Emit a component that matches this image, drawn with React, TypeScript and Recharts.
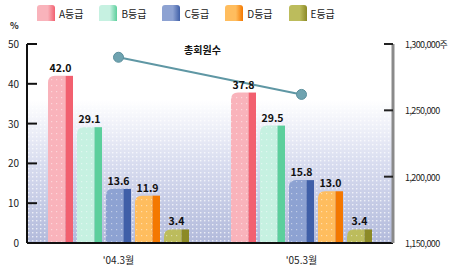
import { ComposedChart, Bar, Line, XAxis, YAxis, ReferenceArea, LabelList } from 'recharts'

const categories = ["'04.3월", "'05.3월"]
const gradeNames = ['A등급', 'B등급', 'C등급', 'D등급', 'E등급']
const gradeA = [42.0, 37.8]
const gradeB = [29.1, 29.5]
const gradeC = [13.6, 15.8]
const gradeD = [11.9, 13.0]
const gradeE = [3.4, 3.4]
const members = [1290000, 1262000]
const memberLabel = '총회원수'
const leftTicks = [0, 10, 20, 30, 40, 50]
const rightTicks = [1150000, 1200000, 1250000, 1300000]

const keys = ['a', 'b', 'c', 'd', 'e']
const faces = [
  { light: '#f9b3bb', dark: '#f2606f' },
  { light: '#c6f1e1', dark: '#5ccf9c' },
  { light: '#8da2d2', dark: '#3f5fa8' },
  { light: '#ffbd5e', dark: '#f47800' },
  { light: '#bcbc5c', dark: '#8c8a26' },
]

const data = categories.map((name, i) => ({
  name,
  a: gradeA[i],
  b: gradeB[i],
  c: gradeC[i],
  d: gradeD[i],
  e: gradeE[i],
  members: members[i],
}))

const FONT = "'Noto Sans CJK KR', 'Noto Sans', sans-serif"

function makeShape(light: string, dark: string) {
  return (props: any) => {
    const { x, y, width, height } = props
    if (!height || height <= 0) return null
    const side = Math.min(8, width * 0.3)
    const r = Math.min(7, height)
    const fw = width - side
    const front = `M${x},${y + height} L${x},${y + r} Q${x},${y} ${x + r},${y} L${x + fw},${y} L${x + fw},${y + height} Z`
    return (
      <g>
        <path d={front} fill={light} />
        <path d={front} fill="url(#dots)" />
        <rect x={x + fw} y={y} width={side} height={height} fill={dark} />
      </g>
    )
  }
}

const LeftTick = (props: any) => {
  const { x, y, payload } = props
  return (
    <g>
      {payload.value !== 0 && <line x1={x} x2={x + 10} y1={y} y2={y} stroke="#111" strokeWidth={2} />}
      <text x={x - 8} y={y + 4} textAnchor="end" fontSize={10} fill="#222" fontFamily={FONT}>
        {payload.value}
      </text>
    </g>
  )
}

const RightTick = (props: any) => {
  const { x, y, payload } = props
  const v = payload.value as number
  return (
    <g>
      {v !== rightTicks[0] && <line x1={x - 9} x2={x} y1={y} y2={y} stroke="#222" strokeWidth={2} />}
      <text x={x + 12} y={y + 4} textAnchor="start" fontSize={9} fill="#222" fontFamily={FONT} letterSpacing={-0.6}>
        {v.toLocaleString('en-US') + (v === rightTicks[rightTicks.length - 1] ? '주' : '')}
      </text>
    </g>
  )
}

const MemberLabel = (props: any) => {
  const { x, y, index } = props
  if (index !== 0) return null
  return (
    <text x={x + 84} y={y - 3} textAnchor="middle" fontSize={10} fontWeight="bold" fill="#111" fontFamily={FONT}>
      {memberLabel}
    </text>
  )
}

export default function App() {
  return (
    <div style={{ position: 'relative', width: 463, height: 273, background: '#fff', fontFamily: FONT }}>
      <style>{`body{margin:0}`}</style>
      <div style={{ position: 'absolute', top: 5, left: 37, display: 'flex', gap: 16, fontSize: 10, color: '#222', zIndex: 2 }}>
        {gradeNames.map((g, i) => (
          <div key={g} style={{ display: 'flex', alignItems: 'center', gap: 4 }}>
            <span
              style={{
                display: 'inline-block',
                width: 18,
                height: 16,
                borderRadius: '3px 3px 0 0',
                background: `linear-gradient(90deg, ${faces[i].light} 60%, ${faces[i].dark} 100%)`,
              }}
            />
            <span>{g}</span>
          </div>
        ))}
      </div>
      <div style={{ position: 'absolute', top: 21, left: 10, fontSize: 9, lineHeight: '10px', fontWeight: 'bold', color: '#222' }}>%</div>
      <ComposedChart
        width={463}
        height={273}
        data={data}
        margin={{ top: 44, right: 0, bottom: 0, left: 0 }}
        barSize={25}
        barGap={4}
        barCategoryGap="11%"
      >
        <defs>
          <linearGradient id="bg" x1="0" y1="0" x2="0" y2="1">
            <stop offset="0%" stopColor="#ffffff" />
            <stop offset="45%" stopColor="#d8dcef" />
            <stop offset="100%" stopColor="#b2badb" />
          </linearGradient>
          <pattern id="bgdots" width="4" height="4" patternUnits="userSpaceOnUse">
            <rect x="0" y="0" width="1.4" height="1.4" fill="#ffffff" opacity={0.7} />
          </pattern>
          <pattern id="dots" width="5" height="6" patternUnits="userSpaceOnUse">
            <rect x="1" y="1" width="1.2" height="1.2" fill="#ffffff" opacity={0.45} />
          </pattern>
        </defs>
        <ReferenceArea yAxisId="left" y1={0} y2={36} fill="url(#bg)" fillOpacity={1} stroke="none" />
        <ReferenceArea yAxisId="left" y1={0} y2={36} fill="url(#bgdots)" fillOpacity={1} stroke="none" />
        <XAxis
          dataKey="name"
          axisLine={{ stroke: '#111', strokeWidth: 2 }}
          tickLine={false}
          height={30}
          tick={{ fontSize: 10, fill: '#222', fontFamily: FONT }}
          tickMargin={8}
        />
        <YAxis
          yAxisId="left"
          width={27}
          domain={[0, 50]}
          ticks={leftTicks}
          axisLine={{ stroke: '#111', strokeWidth: 2 }}
          tickLine={false}
          tickSize={0}
          tickMargin={0}
          tick={<LeftTick />}
          interval={0}
        />
        <YAxis
          yAxisId="right"
          orientation="right"
          width={70}
          domain={[1150000, 1300000]}
          ticks={rightTicks}
          axisLine={{ stroke: '#8a8a8a', strokeWidth: 3 }}
          tickLine={false}
          tickSize={0}
          tickMargin={0}
          tick={<RightTick />}
          interval={0}
        />
        {keys.map((k, i) => (
          <Bar
            key={k}
            yAxisId="left"
            dataKey={k}
            name={gradeNames[i]}
            fill={faces[i].light}
            shape={makeShape(faces[i].light, faces[i].dark)}
            isAnimationActive={false}
          >
            <LabelList
              dataKey={k}
              position="top"
              offset={4}
              formatter={(v: any) => Number(v).toFixed(1)}
              style={{ fontSize: 10.5, fontWeight: 'bold', fill: '#111', fontFamily: FONT }}
            />
          </Bar>
        ))}
        <Line
          yAxisId="right"
          dataKey="members"
          name={memberLabel}
          stroke="#5f97a4"
          strokeWidth={2}
          dot={{ r: 5, fill: '#6fa3b0', stroke: '#5a8f9c', strokeWidth: 1 }}
          isAnimationActive={false}
        >
          <LabelList dataKey="members" content={<MemberLabel />} />
        </Line>
      </ComposedChart>
    </div>
  )
}
